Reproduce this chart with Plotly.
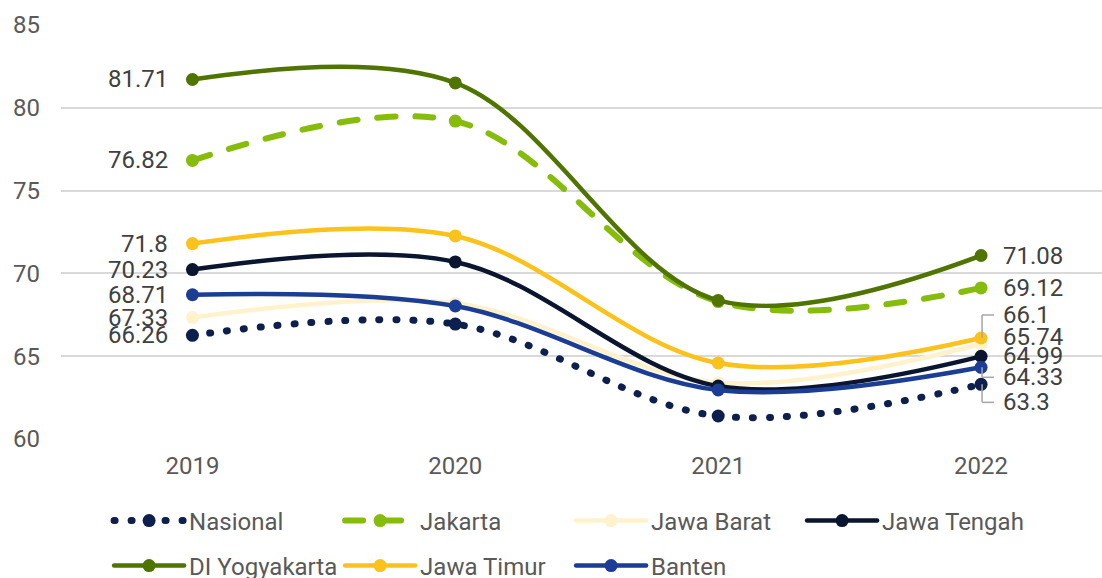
import plotly.graph_objects as go

# Datos
years = ["2019", "2020", "2021", "2022"]

nasional = [66.26, 66.94, 61.39, 63.3]
jakarta = [76.82, 79.2, 68.3, 69.12]
jawa_barat = [67.33, 68.2, 63.4, 65.74]
jawa_tengah = [70.23, 70.69, 63.2, 64.99]
di_yogyakarta = [81.71, 81.5, 68.37, 71.08]
jawa_timur = [71.8, 72.26, 64.59, 66.1]
banten = [68.71, 68.03, 62.96, 64.33]

series = [
    ("Nasional", nasional),
    ("Jakarta", jakarta),
    ("Jawa Barat", jawa_barat),
    ("Jawa Tengah", jawa_tengah),
    ("DI Yogyakarta", di_yogyakarta),
    ("Jawa Timur", jawa_timur),
    ("Banten", banten),
]

# estilos de cada serie
estilos = {
    "Nasional": dict(color="#0D1F4D", width=7, dash="1px,16px"),
    "Jakarta": dict(color="#86BC0C", width=6, dash="18px,20px"),
    "Jawa Barat": dict(color="#FFF2CC", width=4.5, dash="solid"),
    "Jawa Tengah": dict(color="#0A1530", width=4.5, dash="solid"),
    "DI Yogyakarta": dict(color="#4F7400", width=4.5, dash="solid"),
    "Jawa Timur": dict(color="#FBC21C", width=4.5, dash="solid"),
    "Banten": dict(color="#1B3D94", width=4.5, dash="solid"),
}
# desplazamiento vertical (px) de la etiqueta de 2022
desplaz_der = {"Jawa Timur": 23, "Jawa Barat": 7, "Banten": -10, "Nasional": -18}
fila2 = ["DI Yogyakarta", "Jawa Timur", "Banten"]

FONT = "Roboto, Arial, sans-serif"
GUIA = "#A6A6A6"
idx = list(range(len(years)))

fig = go.Figure()
for nombre, valores in series:
    est = estilos[nombre]
    fig.add_trace(go.Scatter(
        x=idx, y=valores, name=nombre, mode="lines+markers",
        line=dict(color=est["color"], width=est["width"], dash=est["dash"],
                  shape="spline", smoothing=1),
        marker=dict(size=13, color=est["color"]),
        legend="legend2" if nombre in fila2 else "legend",
    ))

    # etiqueta izquierda (2019)
    fig.add_annotation(x=idx[0], y=valores[0], text=f"{valores[0]:g}",
                       showarrow=False, xanchor="right", xshift=-22,
                       font=dict(size=24, color="#404040", family=FONT))
    # etiqueta derecha (2022)
    dy = desplaz_der.get(nombre, 0)
    fig.add_annotation(x=idx[-1], y=valores[-1], text=f"{valores[-1]:g}",
                       showarrow=False, xanchor="left", xshift=20, yshift=dy,
                       font=dict(size=24, color="#404040", family=FONT))
    if abs(dy) > 8:
        # linea guia en codo (vertical + horizontal)
        fig.add_shape(type="line", xref="x", yref="y", xsizemode="pixel", ysizemode="pixel",
                      xanchor=idx[-1], yanchor=valores[-1], x0=1, x1=1, y0=0, y1=dy,
                      line=dict(color=GUIA, width=1.5))
        fig.add_shape(type="line", xref="x", yref="y", xsizemode="pixel", ysizemode="pixel",
                      xanchor=idx[-1], yanchor=valores[-1], x0=1, x1=13, y0=dy, y1=dy,
                      line=dict(color=GUIA, width=1.5))

leyenda = dict(orientation="h", xanchor="left", yanchor="middle", x=0.099,
               xref="container", yref="container",
               itemwidth=70, entrywidth=146, bgcolor="rgba(0,0,0,0)",
               font=dict(size=24, color="#595959", family=FONT), itemclick=False)

fig.update_layout(
    width=1102, height=578,
    margin=dict(l=61, r=0, t=25, b=139),
    plot_bgcolor="white", paper_bgcolor="white",
    font=dict(family=FONT, size=24, color="#595959"),
    showlegend=True,
    legend=dict(leyenda, y=1 - 521 / 578),
    legend2=dict(leyenda, y=1 - 566 / 578),
    xaxis=dict(range=[-0.5, 3.46], tickmode="array", tickvals=idx, ticktext=years,
               showgrid=False, zeroline=False, showline=False, ticks="",
               ticklabelstandoff=10, automargin=False,
               tickfont=dict(size=24, color="#595959")),
    yaxis=dict(range=[60, 85], dtick=5, showgrid=True, gridcolor="#D9D9D9", gridwidth=1.5,
               zeroline=False, showline=False, ticks="", ticklabelstandoff=20,
               automargin=False, tickfont=dict(size=24, color="#595959")),
)

post = """
document.body.style.margin = '0';
var gd = document.getElementById('{plot_id}');
function redondear(){
  gd.querySelectorAll('path.js-line').forEach(function(p){ p.style.strokeLinecap = 'round'; });
}
redondear();
gd.on('plotly_afterplot', redondear);
"""

fig.write_html("out.html", post_script=post, config={"displayModeBar": False})
